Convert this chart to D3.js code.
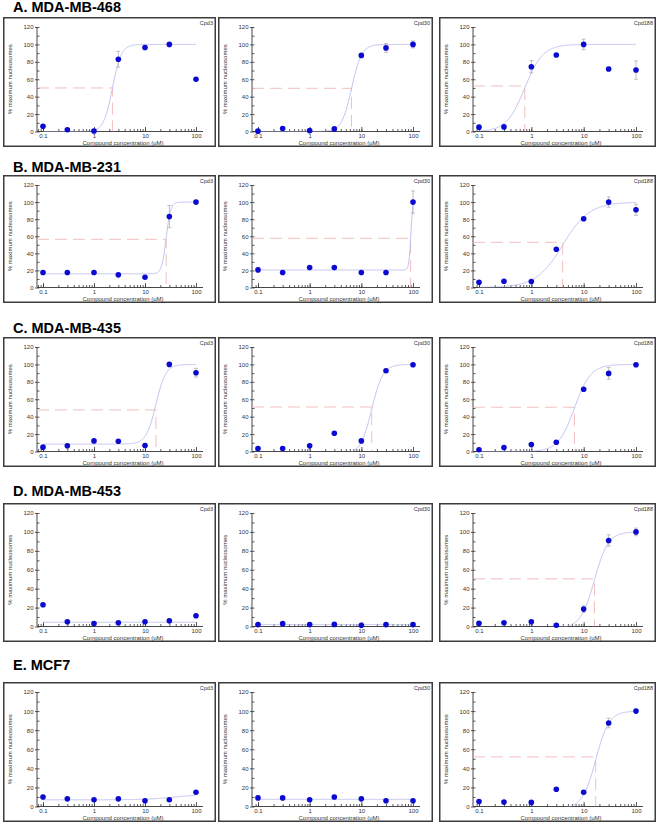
<!DOCTYPE html>
<html>
<head>
<meta charset="utf-8">
<script src="https://cdn.jsdelivr.net/npm/d3@7"></script>
<style>
  html, body { margin: 0; padding: 0; background: #ffffff; }
  svg { display: block; font-family: "Liberation Sans", Arial, sans-serif; }
</style>
</head>
<body>
<script>
// ---------------- DATA ----------------
const rowTitles = ["A. MDA-MB-468", "B. MDA-MB-231", "C. MDA-MB-435", "D. MDA-MB-453", "E. MCF7"];
const compounds = ["Cpd3", "Cpd30", "Cpd188"];
const concentrations = [0.1, 0.3, 1, 3, 10, 30, 100];
const xMajorTicks = [0.1, 1, 10, 100];
const xTickLabels = ["0.1", "1", "10", "100"];
const yMajorTicks = [0, 20, 40, 60, 80, 100, 120];
const xAxisTitle = "Compound concentration (uM)";
const yAxisTitle = "% maximum nucleosomes";

// % maximum nucleosomes per row, one array per compound (Cpd3, Cpd30, Cpd188)
const valuesA = [
  [6, 2, 0.5, 83, 96.5, 100, 60],
  [0.4, 3.4, 1, 3, 87.4, 96, 100],
  [5, 5.3, 74.4, 87.8, 100, 71.8, 70.6]
];
const valuesB = [
  [17.5, 17.5, 17.5, 14.8, 12, 83, 100],
  [20.6, 17.5, 23.3, 23.3, 17.5, 17.5, 100],
  [6.2, 7.4, 7, 44.7, 80.5, 100, 91]
];
const valuesC = [
  [5, 6.5, 12.2, 11.8, 6.9, 100, 90.5],
  [3.4, 3.4, 6.5, 21, 12.2, 92.7, 99.6],
  [2, 4.6, 8, 10.7, 71.4, 89.7, 99.6]
];
const valuesD = [
  [23, 5, 3.2, 3.9, 5, 6, 11.3],
  [2, 3, 2, 2.2, 1.2, 2, 2],
  [3.5, 3.9, 5, 1.4, 18.4, 91, 100]
];
const valuesE = [
  [10, 8, 7, 8, 6, 7, 15],
  [9, 9, 7, 10, 8, 6, 6],
  [5.3, 4.6, 4.3, 18.1, 15, 87.5, 100]
];

// error (+/-) per point
const errorsA = [
  [0, 0, 0, 9, 2, 0, 0],
  [0, 1, 0, 1, 2, 5, 4],
  [0, 0, 7, 1, 6, 2, 10.5]
];
const errorsB = [
  [0, 0, 0, 0, 0, 13, 0],
  [0, 0, 0, 0, 0, 0, 13],
  [0, 0, 0, 1, 1, 6, 6.5]
];
const errorsC = [
  [0, 0, 1, 0, 0, 0, 5],
  [0, 0, 0, 0, 1, 2, 0],
  [0, 0, 0, 0, 1, 6.7, 0]
];
const errorsD = [
  [0, 0, 0, 0, 0, 0, 1.5],
  [0, 0, 0, 0, 0, 0, 0],
  [0, 0, 0, 0, 3.5, 6, 4]
];
const errorsE = [
  [0, 0, 0, 0, 0, 0, 0],
  [0, 0, 0, 0, 0, 0, 0],
  [0, 0, 0, 0, 1, 5, 0]
];

// fitted 4-parameter logistic: [bottom, top, EC50, hill]
const fitsA = [[0, 100, 2.3, 5], [0, 100, 6.5, 4.5], [0, 100, 0.75, 2.5]];
const fitsB = [[16, 100, 26, 10], [20.5, 105, 91, 22], [0, 100, 4, 1.7]];
const fitsC = [[8.5, 100, 16.4, 4.5], [-3, 100, 15.9, 4], [0, 100, 6.67, 2.8]];
const fitsD = [[4.5, 4.5, 1, 1], [2, 2, 1, 1], [-1.5, 100, 16.1, 3.3]];
const fitsE = [[7, 13, 40, 1.5], [7.5, 7.5, 1, 1], [-2, 100, 17, 3.4]];

// IC50 marker (dashed guide): [concentration, level]; null = none
const ic50A = [[2.3, 50], [6.45, 49.6], [0.75, 52.3]];
const ic50B = [[26, 56.4], [90, 57.6], [3.97, 52.9]];
const ic50C = [[16.4, 47.7], [15.9, 51.1], [6.67, 50.8]];
const ic50D = [null, null, [16.1, 50.4]];
const ic50E = [null, null, [17, 52]];

// ---------------- LAYOUT ----------------
const W = 661, H = 824;
const rowBoxY = [[17, 147], [175, 303], [337, 467], [503, 642], [682, 822]];
const colBoxX = [[3, 216], [218, 433], [439, 656]];
const titleBaseline = [12, 172, 333, 496, 670];

const rowValues = [valuesA, valuesB, valuesC, valuesD, valuesE];
const rowErrors = [errorsA, errorsB, errorsC, errorsD, errorsE];
const rowFits = [fitsA, fitsB, fitsC, fitsD, fitsE];
const rowIC50 = [ic50A, ic50B, ic50C, ic50D, ic50E];

const svg = d3.select("body").append("svg").attr("width", W).attr("height", H);

const xMinor = [];
[0.01, 0.1, 1, 10].forEach(dec => { for (let k = 1; k <= 9; k++) xMinor.push(+(dec * k).toPrecision(3)); });
const yMinor = d3.range(0, 121, 10);

function logistic(f, c) {
  const [b, t, e, h] = f;
  return b + (t - b) / (1 + Math.pow(e / c, h));
}

rowTitles.forEach((title, r) => {
  svg.append("text")
    .attr("x", 13).attr("y", titleBaseline[r])
    .attr("font-size", 14.5).attr("font-weight", "bold").attr("fill", "#000")
    .text(title);

  compounds.forEach((cpd, c) => {
    const bx0 = colBoxX[c][0], bx1 = colBoxX[c][1];
    const by0 = rowBoxY[r][0], by1 = rowBoxY[r][1];
    const g = svg.append("g");

    const yAxisX = bx0 + 34;
    const axisEnd = bx1 - 13;
    const x = d3.scaleLog().domain([0.1, 100]).range([bx0 + 40, bx1 - 20]);
    const y = d3.scaleLinear().domain([0, 120]).range([by1 - 15.5, by0 + 10]);
    const y0 = y(0);

    // box
    g.append("rect")
      .attr("x", bx0 + 0.75).attr("y", by0 + 0.75)
      .attr("width", bx1 - bx0 - 1.5).attr("height", by1 - by0 - 1.5)
      .attr("fill", "#fff").attr("stroke", "#3c3c3c").attr("stroke-width", 1.5);

    // clip
    const clipId = `clip-${r}-${c}`;
    g.append("clipPath").attr("id", clipId)
      .append("rect").attr("x", yAxisX).attr("y", y(120) - 5)
      .attr("width", axisEnd - yAxisX).attr("height", y0 - y(120) + 5);

    // x axis
    const minorVals = xMinor.filter(v => x(v) >= yAxisX + 1 && x(v) <= axisEnd);
    g.append("g").attr("transform", `translate(0,${y0})`)
      .call(d3.axisBottom(x).tickValues(minorVals).tickSize(-2.5).tickFormat(""))
      .call(s => s.select(".domain").remove())
      .call(s => s.selectAll("line").attr("stroke", "#333").attr("stroke-width", 0.8));
    g.append("g").attr("transform", `translate(0,${y0})`)
      .call(d3.axisBottom(x).tickValues(xMajorTicks).tickSize(-4.5).tickPadding(2.5)
        .tickFormat((d, i) => xTickLabels[i]))
      .call(s => s.select(".domain").remove())
      .call(s => s.selectAll("line").attr("stroke", "#333").attr("stroke-width", 0.8))
      .call(s => s.selectAll("text").attr("font-size", 6).attr("fill", "#333")
        .attr("font-family", "Liberation Sans, Arial, sans-serif"));
    g.append("line").attr("x1", yAxisX).attr("x2", axisEnd).attr("y1", y0).attr("y2", y0)
      .attr("stroke", "#333").attr("stroke-width", 0.9);

    // y axis
    g.append("g").attr("transform", `translate(${yAxisX},0)`)
      .call(d3.axisRight(y).tickValues(yMinor).tickSize(2.5).tickFormat(""))
      .call(s => s.select(".domain").remove())
      .call(s => s.selectAll("line").attr("stroke", "#333").attr("stroke-width", 0.8));
    g.append("g").attr("transform", `translate(${yAxisX},0)`)
      .call(d3.axisLeft(y).tickValues(yMajorTicks).tickSize(2).tickPadding(1.5))
      .call(s => s.select(".domain").remove())
      .call(s => s.selectAll("line").attr("stroke", "#333").attr("stroke-width", 0.8))
      .call(s => s.selectAll("text").attr("font-size", 6).attr("fill", "#333")
        .attr("font-family", "Liberation Sans, Arial, sans-serif"));
    g.append("line").attr("x1", yAxisX).attr("x2", yAxisX).attr("y1", y0).attr("y2", y(120))
      .attr("stroke", "#333").attr("stroke-width", 0.9);

    // axis titles
    g.append("text")
      .attr("x", (yAxisX + axisEnd) / 2 + 3).attr("y", y0 + 13.5)
      .attr("text-anchor", "middle").attr("font-size", 6).attr("fill", "#333")
      .text(xAxisTitle);
    g.append("text")
      .attr("transform", `translate(${bx0 + 9},${(y(0) + y(120)) / 2}) rotate(-90)`)
      .attr("text-anchor", "middle").attr("font-size", 6).attr("fill", "#333")
      .text(yAxisTitle);

    // compound label
    g.append("text")
      .attr("x", bx1 - 3).attr("y", by0 + 7.5)
      .attr("text-anchor", "end").attr("font-size", 5.5).attr("fill", "#333")
      .text(cpd);

    const plot = g.append("g").attr("clip-path", `url(#${clipId})`);

    // IC50 guide
    const ic = rowIC50[r][c];
    if (ic) {
      plot.append("path")
        .attr("d", `M${yAxisX},${y(ic[1])}H${x(ic[0])}V${y0}`)
        .attr("fill", "none").attr("stroke", "#f2b8b8").attr("stroke-width", 0.9)
        .attr("stroke-dasharray", "12,6");
    }

    // fitted curve
    const fit = rowFits[r][c];
    const curvePts = d3.range(0, 301).map(i => Math.pow(10, -1 + 3 * i / 300));
    plot.append("path")
      .datum(curvePts)
      .attr("d", d3.line().x(d => x(d)).y(d => y(logistic(fit, d))))
      .attr("fill", "none").attr("stroke", "#b4b4f0").attr("stroke-width", 0.8);

    // error bars
    const vals = rowValues[r][c], errs = rowErrors[r][c];
    const pts = concentrations.map((cc, i) => ({ c: cc, v: vals[i], e: errs[i] }));
    const eb = g.append("g").attr("stroke", "#a8a8a8").attr("stroke-width", 0.7).attr("fill", "none");
    pts.filter(p => p.e > 0).forEach(p => {
      const cx = x(p.c), yt = y(p.v + p.e), yb = y(Math.max(0, p.v - p.e));
      eb.append("path").attr("d", `M${cx},${yt}V${yb}M${cx - 2},${yt}H${cx + 2}M${cx - 2},${yb}H${cx + 2}`);
    });

    // points
    g.append("g").selectAll("circle").data(pts).join("circle")
      .attr("cx", d => x(d.c)).attr("cy", d => y(d.v)).attr("r", 2.8)
      .attr("fill", "#0a0ad0");
  });
});
</script>
</body>
</html>
